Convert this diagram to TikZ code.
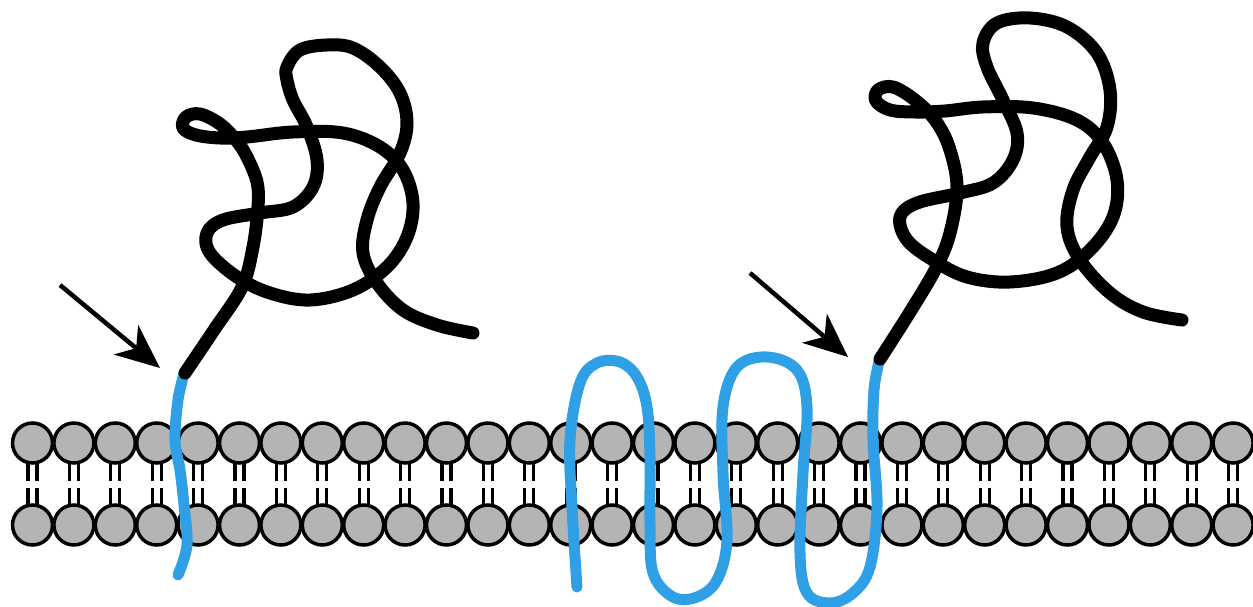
\documentclass[tikz,border=0pt]{standalone}
\usetikzlibrary{arrows.meta}
\definecolor{lipidgray}{RGB}{180,180,180}
\definecolor{peptide}{RGB}{48,160,230}
\begin{document}
\begin{tikzpicture}[x=1pt,y=-1pt,
  head/.style={draw=black,line width=3.5pt,fill=lipidgray},
  tail/.style={draw=black,line width=3.2pt},
  helix/.style={draw=peptide,line width=11pt,line cap=round,line join=round},
  foldchain/.style={draw=black,line width=13pt,line cap=round,line join=round},
  pointer/.style={draw=black,line width=4.5pt,-{Stealth[length=44pt,width=38pt,inset=13pt]}}]
\useasboundingbox (0,0) rectangle (1253,607);

% lipid bilayer: 30 phospholipid pairs
\foreach \i in {0,...,29}{
  \pgfmathsetmacro\cx{32.5+41.4*\i}
  \draw[tail] (\cx-4.5,462) -- (\cx-4.5,481) (\cx+4.5,462) -- (\cx+4.5,481)
              (\cx-4.5,488) -- (\cx-4.5,506) (\cx+4.5,488) -- (\cx+4.5,506);
  \draw[head] (\cx,443) circle[radius=20pt];
  \draw[head] (\cx,525) circle[radius=20pt];
}

% single-pass anchor (left)
\draw[helix] plot[smooth,tension=0.6] coordinates {(184,374) (178,400) (175,440) (180,470) (184,505) (187,545) (178,575)};

% multi-pass anchor (right)
\draw[helix] plot[smooth,tension=0.6] coordinates {(879,362) (874,390) (873,440) (877,507) (870,567) (853,593) (830,603) (807,593) (800,553) (803,473) (807,407) (797,370) (767,357) (737,367) (723,407) (723,473) (727,540) (717,580) (697,597) (673,597) (653,573) (650,523) (650,457) (647,407) (637,377) (620,362) (597,363) (580,383) (570,440) (572,507) (577,587)};

% folded domain (left)
\draw[foldchain] plot[smooth,tension=0.6] coordinates {(185,373) (214,330) (242,287) (253,247) (258,207) (257,182) (247,157) (236,140) (220,124) (200,114) (186,117) (183,128) (196,135) (220,138) (247,137) (293,132) (343,133) (380,147) (403,170) (413,203) (407,237) (387,267) (353,290) (310,300) (270,293) (237,277) (210,253) (207,233) (223,220) (260,213) (293,207) (313,187) (317,160) (307,127) (293,100) (287,80) (287,67) (300,50) (327,45) (353,48) (380,67) (400,93) (407,123) (400,153) (380,187) (367,220) (363,253) (377,283) (403,310) (437,325) (473,333)};

% folded domain (right)
\draw[foldchain] plot[smooth,tension=0.6] coordinates {(880,359) (910,312) (936,268) (950,233) (957,187) (949,147) (935,120) (915,100) (893,87) (878,90) (876,101) (890,110) (915,112) (945,111) (983,107) (1033,108) (1077,120) (1103,143) (1117,180) (1113,217) (1090,250) (1057,273) (1010,282) (967,277) (933,260) (907,240) (900,217) (917,203) (960,193) (993,183) (1013,160) (1017,133) (1003,100) (987,67) (983,43) (997,23) (1030,18) (1067,27) (1097,53) (1110,90) (1107,127) (1090,157) (1073,190) (1067,227) (1080,260) (1110,293) (1143,312) (1182,320)};

% arrows marking the junctions
\coordinate (a1s) at (60,285);
\coordinate (a1e) at (160,368);
\coordinate (a2s) at (750,273);
\coordinate (a2e) at (848,357);
\draw[pointer] (a1s) -- (a1e);
\draw[pointer] (a2s) -- (a2e);
\end{tikzpicture}
\end{document}
